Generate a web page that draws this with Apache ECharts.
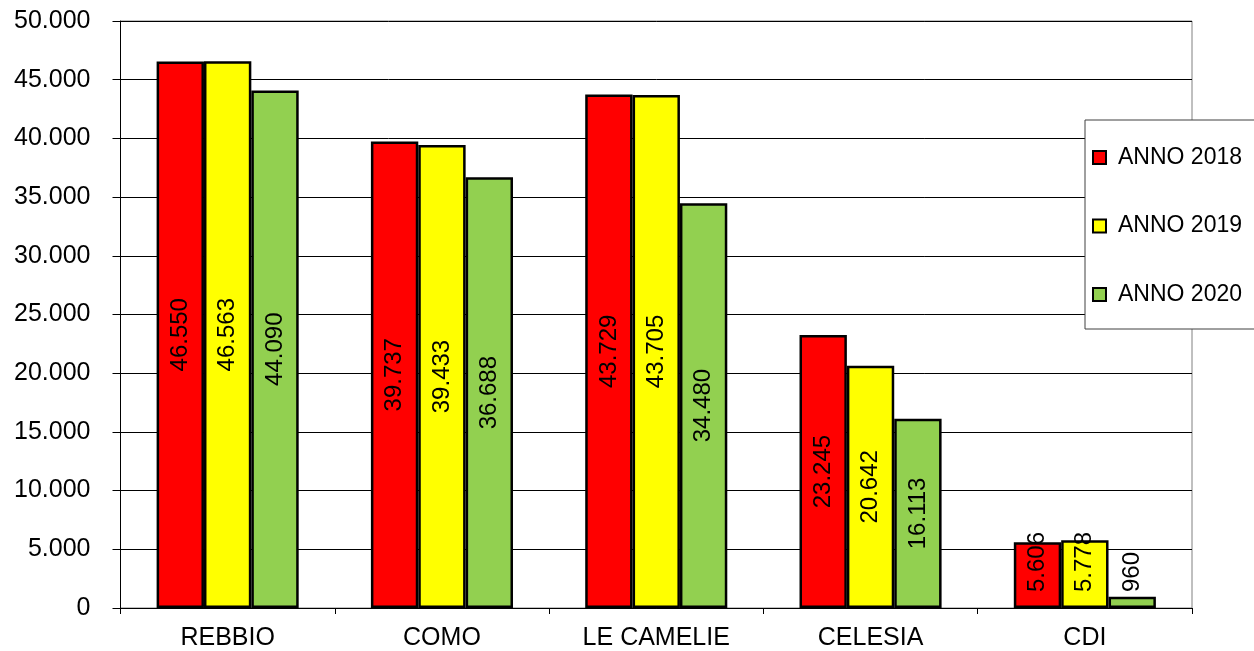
<!DOCTYPE html>
<html>
<head>
<meta charset="utf-8">
<style>
  html, body { margin: 0; padding: 0; background: #fff; }
  #chart { width: 1254px; height: 651px; }
</style>
<script src="https://cdn.jsdelivr.net/npm/echarts@6/dist/echarts.min.js"></script>
</head>
<body>
<div id="chart"></div>
<script>
// Sites and yearly totals
const categories = ['REBBIO', 'COMO', 'LE CAMELIE', 'CELESIA', 'CDI'];
const seriesNames = ['ANNO 2018', 'ANNO 2019', 'ANNO 2020'];
const anno2018 = [46550, 39737, 43729, 23245, 5606];
const anno2019 = [46563, 39433, 43705, 20642, 5778];
const anno2020 = [44090, 36688, 34480, 16113, 960];
const seriesColors = ['#FF0000', '#FFFF00', '#92D050'];

const FONT = "'Liberation Sans', Arial, sans-serif";

// Italian-style thousands separator: 46550 -> "46.550"
function fmt(v) {
  return String(Math.round(v)).replace(/\B(?=(\d{3})+(?!\d))/g, '.');
}

// Short bars get their label anchored near the base instead of centred
function buildData(values) {
  return values.map(v => {
    if (v < 8000) {
      return {
        value: v,
        label: { position: 'insideBottom', distance: 16, align: 'left', verticalAlign: 'middle' }
      };
    }
    return v;
  });
}

const allValues = [anno2018, anno2019, anno2020];

const chart = echarts.init(document.getElementById('chart'), null, { renderer: 'canvas' });

chart.setOption({
  animation: false,
  backgroundColor: '#fff',
  textStyle: { fontFamily: FONT },
  grid: {
    left: 120.5, right: 62, top: 21, bottom: 43,
    show: true, borderColor: '#808080', borderWidth: 1, backgroundColor: 'transparent'
  },
  legend: {
    orient: 'vertical',
    left: 1085, top: 120,
    padding: [25.5, 15, 22.5, 7],
    itemGap: 44.5,
    itemWidth: 13, itemHeight: 13,
    icon: 'rect',
    backgroundColor: '#fff',
    borderColor: '#404040', borderWidth: 1,
    textStyle: { fontFamily: FONT, fontSize: 23, color: '#000', lineHeight: 24, padding: [0, 0, 0, 7] },
    data: seriesNames
  },
  xAxis: {
    type: 'category',
    data: categories,
    axisLine: { lineStyle: { color: '#000', width: 1 } },
    axisTick: { show: true, length: 6, lineStyle: { color: '#000' } },
    axisLabel: { fontFamily: FONT, fontSize: 25, color: '#000', margin: 18 },
    splitLine: { show: false }
  },
  yAxis: {
    type: 'value',
    min: 0, max: 50000, interval: 5000,
    axisLine: { show: true, lineStyle: { color: '#000', width: 1 } },
    axisTick: { show: true, length: 8, inside: false, lineStyle: { color: '#000' } },
    axisLabel: { fontFamily: FONT, fontSize: 25, color: '#000', margin: 30, formatter: v => fmt(v) },
    splitLine: { show: true, lineStyle: { color: '#000', width: 1 } }
  },
  series: seriesNames.map((name, i) => ({
    name: name,
    type: 'bar',
    data: buildData(allValues[i]),
    barGap: '0%',
    barCategoryGap: '33.7%',
    itemStyle: { color: seriesColors[i], borderColor: '#000', borderWidth: 2.5 },
    label: {
      show: true,
      position: 'inside',
      rotate: 90,
      fontFamily: FONT,
      fontSize: 24,
      color: '#000',
      formatter: p => fmt(p.value)
    }
  }))
});
</script>
</body>
</html>
